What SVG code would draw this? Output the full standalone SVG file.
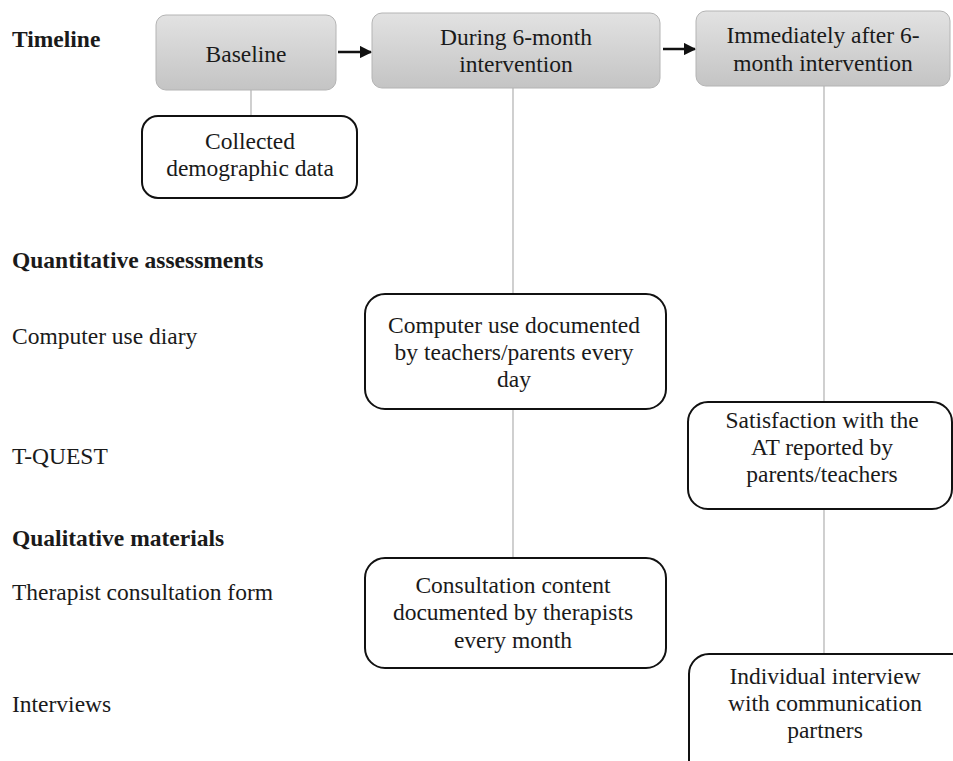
<svg xmlns="http://www.w3.org/2000/svg" width="953" height="761" viewBox="0 0 953 761" font-family="'Liberation Serif', Tinos, 'Times New Roman', 'DejaVu Serif', serif">
<defs>
<linearGradient id="hdr" x1="0" y1="0" x2="0" y2="1">
<stop offset="0" stop-color="#e2e2e2"/>
<stop offset="1" stop-color="#c4c4c4"/>
</linearGradient>
<marker id="arr" viewBox="0 0 10 10" refX="9" refY="5" markerWidth="5" markerHeight="5" orient="auto" markerUnits="strokeWidth">
<path d="M0,0 L10,5 L0,10 z" fill="#111"/>
</marker>
<style>
text{font-family:'Liberation Serif', Tinos, 'Times New Roman', 'DejaVu Serif', serif;font-size:23.5px;fill:#1a1a1a}
.b{font-weight:bold}
.c{text-anchor:middle}
.hdr{fill:url(#hdr);stroke:#b4b4b4;stroke-width:1}
.box{fill:#fff;stroke:#111;stroke-width:2}
.vl{stroke:#b0b0b0;stroke-width:1.2;fill:none}
.ar{stroke:#111;stroke-width:2.5;fill:none;marker-end:url(#arr)}
</style>
</defs>
<rect width="953" height="761" fill="#fff"/>
<g id="labels">
<text class="b" x="12" y="47">Timeline</text>
<text class="b" x="12" y="268">Quantitative assessments</text>
<text x="12" y="344">Computer use diary</text>
<text x="12" y="464">T-QUEST</text>
<text class="b" x="12" y="546">Qualitative materials</text>
<text x="12" y="600">Therapist consultation form</text>
<text x="12" y="712">Interviews</text>
</g>
<g id="connectors">
<line class="vl" x1="251" y1="90" x2="251" y2="115"/>
<line class="vl" x1="513" y1="88" x2="513" y2="293"/>
<line class="vl" x1="513" y1="409" x2="513" y2="557"/>
<line class="vl" x1="824" y1="86" x2="824" y2="401"/>
<line class="vl" x1="824" y1="509" x2="824" y2="653"/>
<line class="ar" x1="338" y1="52" x2="371" y2="52"/>
<line class="ar" x1="663" y1="49" x2="695" y2="49"/>
</g>
<g id="baseline">
<rect class="hdr" x="156" y="15" width="180" height="75" rx="10"/>
<text class="c" x="246" y="62">Baseline</text>
</g>
<g id="during">
<rect class="hdr" x="372" y="13" width="288" height="75" rx="10"/>
<text class="c" x="516" y="45">During 6-month</text>
<text class="c" x="516" y="72">intervention</text>
</g>
<g id="after">
<rect class="hdr" x="696" y="11" width="254" height="75" rx="10"/>
<text class="c" x="823" y="43">Immediately after 6-</text>
<text class="c" x="823" y="71">month intervention</text>
</g>
<g id="collected">
<rect class="box" x="142" y="116" width="215" height="82" rx="16"/>
<text class="c" x="250" y="149">Collected</text>
<text class="c" x="250" y="176">demographic data</text>
</g>
<g id="computer">
<rect class="box" x="365" y="294" width="301" height="115" rx="20"/>
<text class="c" x="514" y="333">Computer use documented</text>
<text class="c" x="514" y="360">by teachers/parents every</text>
<text class="c" x="514" y="387">day</text>
</g>
<g id="satisfaction">
<rect class="box" x="688" y="402" width="264" height="107" rx="20"/>
<text class="c" x="822" y="428">Satisfaction with the</text>
<text class="c" x="822" y="455">AT reported by</text>
<text class="c" x="822" y="482">parents/teachers</text>
</g>
<g id="consultation">
<rect class="box" x="365" y="558" width="301" height="110" rx="20"/>
<text class="c" x="513" y="593">Consultation content</text>
<text class="c" x="513" y="620">documented by therapists</text>
<text class="c" x="513" y="648">every month</text>
</g>
<g id="interview">
<rect class="box" x="689" y="654" width="290" height="130" rx="20"/>
<text class="c" x="825" y="684">Individual interview</text>
<text class="c" x="825" y="711">with communication</text>
<text class="c" x="825" y="738">partners</text>
</g>
</svg>
